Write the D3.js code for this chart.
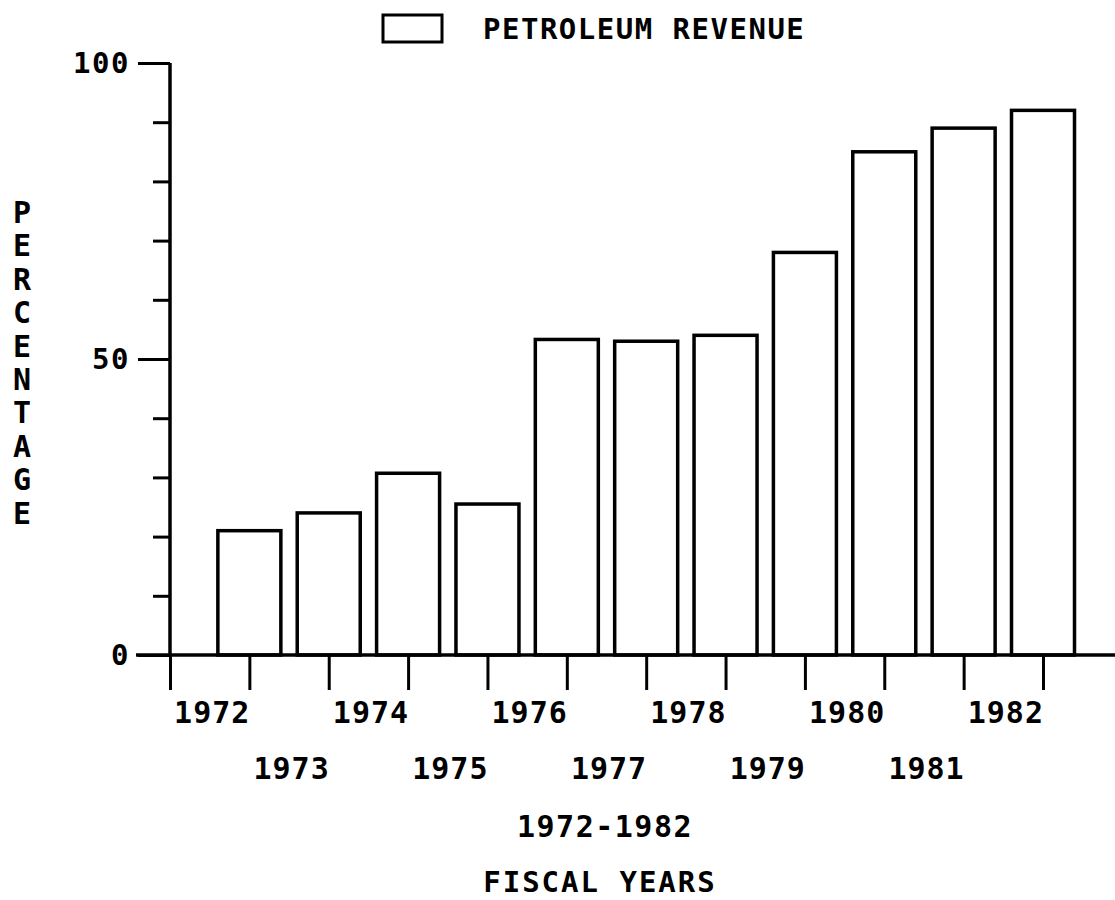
<!DOCTYPE html>
<html>
<head>
<meta charset="utf-8">
<script src="https://cdn.jsdelivr.net/npm/d3@7"></script>
<style>
  body { margin: 0; background: #fff; }
  text { font-family: "DejaVu Sans Mono", monospace; font-weight: bold; fill: #000; }
</style>
</head>
<body>
<script>
// data
const years = [1972, 1973, 1974, 1975, 1976, 1977, 1978, 1979, 1980, 1981, 1982];
const revenueShare = [21, 24, 30.7, 25.5, 53.3, 53, 54, 68, 85, 89, 92];
const majorTicks = [0, 50, 100];
const minorTicks = [10, 20, 30, 40, 60, 70, 80, 90];
const legendLabel = 'PETROLEUM REVENUE';
const yTitle = 'PERCENTAGE';
const xTitle1 = '1972-1982';
const xTitle2 = 'FISCAL YEARS';

const width = 1115, height = 900;

const svg = d3.select('body').append('svg')
    .attr('width', width)
    .attr('height', height);

const x = d3.scaleLinear()
    .domain([1971, 1982])
    .range([170, 1043]);

const y = d3.scaleLinear()
    .domain([0, 100])
    .range([655, 63]);

const barW = 63;

// bars
svg.selectAll('rect.bar')
    .data(years)
    .enter()
    .append('rect')
    .attr('class', 'bar')
    .attr('x', d => x(d) - barW / 2)
    .attr('y', (d, i) => y(revenueShare[i]))
    .attr('width', barW)
    .attr('height', (d, i) => y(0) - y(revenueShare[i]))
    .attr('fill', 'none')
    .attr('stroke', '#000')
    .attr('stroke-width', 3.5);

// y axis: minor ticks
svg.append('g')
    .attr('transform', `translate(${x(1971)},0)`)
    .call(d3.axisLeft(y).tickValues(minorTicks).tickSize(17).tickFormat(''))
    .call(g => g.select('.domain').remove())
    .call(g => g.selectAll('line').attr('stroke-width', 3));

// y axis: major ticks + labels
const yAxis = svg.append('g')
    .attr('transform', `translate(${x(1971)},0)`)
    .call(d3.axisLeft(y).tickValues(majorTicks).tickSize(32).tickPadding(8).tickFormat(d3.format('d')));
yAxis.select('.domain')
    .attr('d', `M0,${y(0)}V${y(100)}`)
    .attr('stroke-width', 3.5);
yAxis.selectAll('line').attr('stroke-width', 3);
yAxis.selectAll('text')
    .attr('font-size', 29)
    .attr('letter-spacing', 1.5)
    .attr('font-family', '"DejaVu Sans Mono", monospace')
    .attr('font-weight', 'bold');

// x axis
const xAxis = svg.append('g')
    .attr('transform', `translate(0,${y(0)})`)
    .call(d3.axisBottom(x).tickValues([1971].concat(years)).tickSize(35).tickFormat(''));
xAxis.select('.domain')
    .attr('d', `M${x(1971) - 34},0H${width}`)
    .attr('stroke-width', 3.5);
xAxis.selectAll('line').attr('stroke-width', 3);

// staggered year labels, right-aligned at each tick
svg.selectAll('text.year')
    .data(years)
    .enter()
    .append('text')
    .attr('class', 'year')
    .attr('x', d => x(d) + 1)
    .attr('y', (d, i) => i % 2 === 0 ? 723 : 779)
    .attr('text-anchor', 'end')
    .attr('font-size', 30)
    .attr('letter-spacing', 1)
    .text(d => d);

// x titles
svg.append('text')
    .attr('x', 605)
    .attr('y', 837)
    .attr('text-anchor', 'middle')
    .attr('font-size', 30)
    .attr('letter-spacing', 1.5)
    .text(xTitle1);

svg.append('text')
    .attr('x', 600)
    .attr('y', 892)
    .attr('text-anchor', 'middle')
    .attr('font-size', 29)
    .attr('letter-spacing', 2)
    .text(xTitle2);

// y title, stacked letters
svg.selectAll('text.ytitle')
    .data(yTitle.split(''))
    .enter()
    .append('text')
    .attr('class', 'ytitle')
    .attr('x', 22)
    .attr('y', (d, i) => 223 + i * 33.4)
    .attr('text-anchor', 'middle')
    .attr('font-size', 30)
    .text(d => d);

// legend
svg.append('rect')
    .attr('x', 383)
    .attr('y', 15)
    .attr('width', 59)
    .attr('height', 27)
    .attr('fill', 'none')
    .attr('stroke', '#000')
    .attr('stroke-width', 3);

svg.append('text')
    .attr('x', 483)
    .attr('y', 39)
    .attr('font-size', 29)
    .attr('letter-spacing', 1.5)
    .text(legendLabel);
</script>
</body>
</html>
